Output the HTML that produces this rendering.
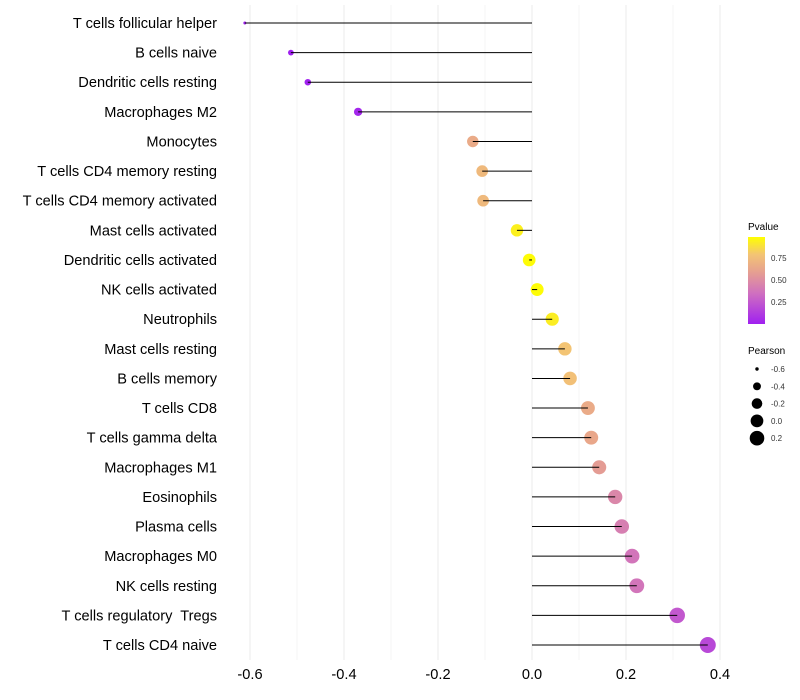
<!DOCTYPE html>
<html><head><meta charset="utf-8"><style>
body{margin:0;background:#fff;}
svg{display:block;font-family:"Liberation Sans",sans-serif;}
#labels text{white-space:pre;}
</style></head><body>
<svg id="chart" width="800" height="700">
<defs>
<linearGradient id="pg" x1="0" y1="1" x2="0" y2="0">
<stop offset="0" stop-color="#A020F0"/>
<stop offset="0.35" stop-color="#CF6FC0"/>
<stop offset="0.6" stop-color="#E6A090"/>
<stop offset="0.8" stop-color="#F3C474"/>
<stop offset="1" stop-color="#FFFF00"/>
</linearGradient>
</defs>
<g id="grid"></g><g id="marks"></g><g id="labels"></g><g id="xaxis"></g>
<g id="legend">
<text x="748" y="230" font-size="10" fill="#000">Pvalue</text>
<rect x="748" y="237" width="17" height="87" fill="url(#pg)"/>
<text x="771" y="261" font-size="8" fill="#333">0.75</text>
<text x="771" y="283" font-size="8" fill="#333">0.50</text>
<text x="771" y="305" font-size="8" fill="#333">0.25</text>
<text x="748" y="354" font-size="10" fill="#000">Pearson</text>
<g id="sizeleg"></g>
</g>
</svg>
<script>
const categories=["T cells follicular helper","B cells naive","Dendritic cells resting","Macrophages M2","Monocytes","T cells CD4 memory resting","T cells CD4 memory activated","Mast cells activated","Dendritic cells activated","NK cells activated","Neutrophils","Mast cells resting","B cells memory","T cells CD8","T cells gamma delta","Macrophages M1","Eosinophils","Plasma cells","Macrophages M0","NK cells resting","T cells regulatory  Tregs","T cells CD4 naive"];
const pearson=[-0.611,-0.513,-0.477,-0.370,-0.126,-0.106,-0.104,-0.032,-0.006,0.011,0.043,0.070,0.081,0.119,0.126,0.143,0.177,0.191,0.213,0.223,0.309,0.374];
const pvalue=[0.0,0.0,0.01,0.03,0.66,0.74,0.74,0.95,0.99,0.99,0.94,0.8,0.78,0.66,0.64,0.58,0.47,0.43,0.38,0.38,0.25,0.18];
const xTicks=[-0.6,-0.4,-0.2,0.0,0.2,0.4];
const sizeLegend=[-0.6,-0.4,-0.2,0.0,0.2];
const NS="http://www.w3.org/2000/svg";
const xs=v=>532+v*470;
const ys=i=>23+i*29.62;
const rs=v=>Math.sqrt(Math.max(0,2.25+62.8*(v+0.611)));
const stops=[[0,[160,32,240]],[0.35,[207,111,192]],[0.6,[230,160,144]],[0.8,[243,196,116]],[1,[255,255,0]]];
function col(p){for(let i=1;i<stops.length;i++){if(p<=stops[i][0]){const a=stops[i-1],b=stops[i],t=(p-a[0])/(b[0]-a[0]);return `rgb(${a[1].map((c,k)=>Math.round(c+(b[1][k]-c)*t)).join(',')})`;}}return 'rgb(255,255,0)';}
function mk(t,at,par){const e=document.createElementNS(NS,t);for(const k in at)e.setAttribute(k,at[k]);document.getElementById(par).appendChild(e);return e;}
let gi=0;
for(let v=-0.6;v<=0.41;v+=0.1){const g=mk('line',{x1:xs(v),x2:xs(v),y1:5,y2:660,stroke:(gi%2==0)?'#ebebeb':'#f4f4f4','stroke-width':1},'grid');gi++;

}
categories.forEach((c,i)=>{
const y=ys(i);
const p=mk('circle',{cx:xs(pearson[i]),cy:y,r:rs(pearson[i]),fill:col(pvalue[i])},'marks');


const l=mk('line',{x1:xs(pearson[i]),x2:xs(0),y1:y,y2:y,stroke:'#000','stroke-width':1},'marks');


const t=mk('text',{x:217,y:y+5,'text-anchor':'end','font-size':14.6,fill:'#000'},'labels');t.textContent=c;


});
xTicks.forEach(v=>{const t=mk('text',{x:xs(v),y:679,'text-anchor':'middle','font-size':14.6,fill:'#000'},'xaxis');t.textContent=v.toFixed(1);

});
sizeLegend.forEach((v,i)=>{const y=369+i*17.3;
const c=mk('circle',{cx:757,cy:y,r:rs(v),fill:'#000'},'sizeleg');


const t=mk('text',{x:771,y:y+3,'font-size':8,fill:'#333'},'sizeleg');t.textContent=v.toFixed(1);

});
</script>
</body></html>
